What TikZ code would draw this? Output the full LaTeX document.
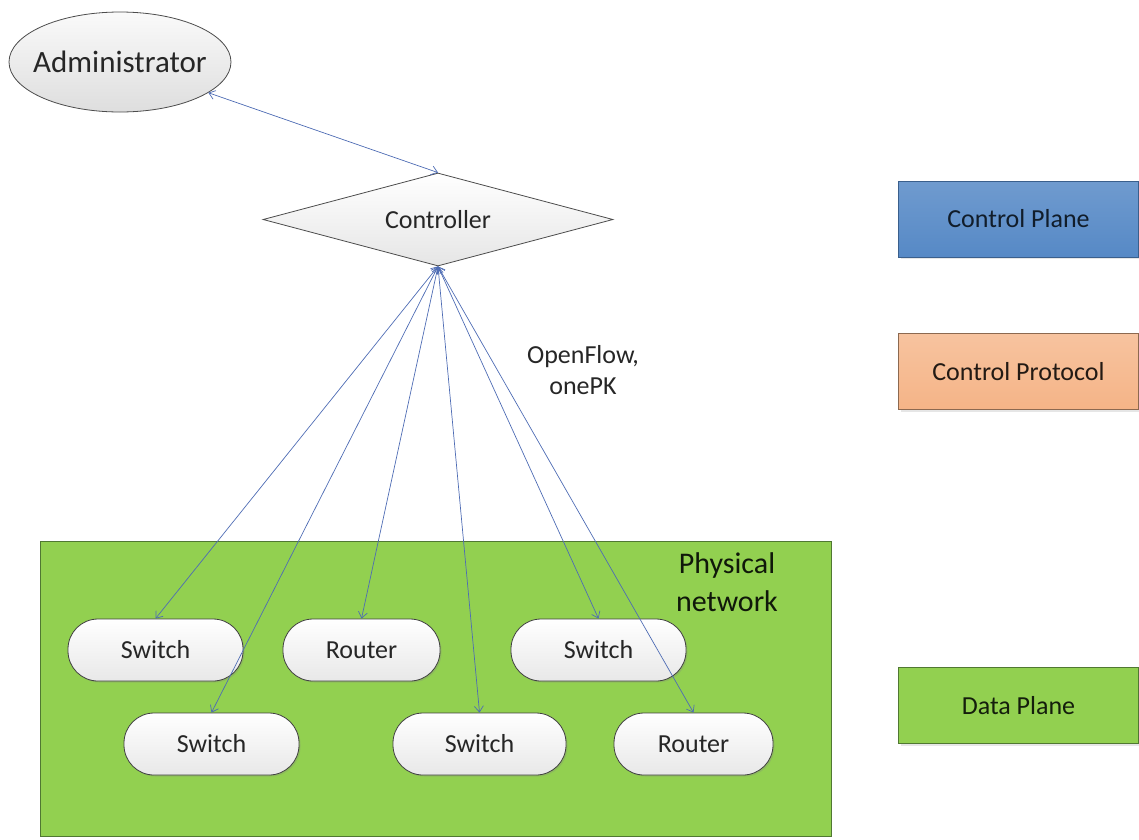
\documentclass[tikz,border=0pt]{standalone}
\usepackage{fontspec}
\setmainfont{Carlito}
\usetikzlibrary{shapes.geometric,arrows.meta,shadows}

\definecolor{linkblue}{RGB}{78,108,180}
\definecolor{netgreen}{RGB}{146,208,80}
\definecolor{netgreenline}{RGB}{80,120,50}
\definecolor{planeblue}{RGB}{86,137,198}
\definecolor{planeblueline}{RGB}{58,95,140}
\definecolor{protoorange}{RGB}{245,180,135}
\definecolor{protoline}{RGB}{140,105,80}
\definecolor{textgray}{RGB}{38,38,38}

\tikzset{
  x=1pt, y=-1pt,
  basefont/.style={font=\fontsize{26}{31}\selectfont, text=textgray},
  device/.style={basefont, draw=black!75, line width=0.8pt,
    rounded corners=30pt, minimum height=62pt, inner sep=0pt,
    top color=white, bottom color=black!9,
    drop shadow={opacity=0.25, shadow xshift=1.5pt, shadow yshift=-1.5pt}},
  legend/.style={basefont, draw, line width=0.8pt, minimum width=240pt,
    minimum height=76pt, inner sep=0pt,
    drop shadow={opacity=0.2, shadow xshift=2pt, shadow yshift=-2pt}},
  link/.style={draw=linkblue, line width=0.7pt,
    {Straight Barb[length=6pt,width=9pt]}-{Straight Barb[length=6pt,width=9pt]}},
}

\begin{document}
\begin{tikzpicture}
\useasboundingbox (0,0) rectangle (1139,839);

% physical network area
\node[draw=netgreenline, fill=netgreen, line width=0.8pt,
      minimum width=791pt, minimum height=295pt, inner sep=0pt]
      (net) at (435.5,688.5) {};
\node[basefont, text=black!80!netgreenline, font=\fontsize{30}{38}\selectfont,
      align=center] (netlabel) at (727,582) {Physical\\network};

% administrator and controller
\node[ellipse, basefont, font=\fontsize{31}{36}\selectfont, draw=black!70,
      line width=0.8pt, minimum width=222pt, minimum height=100pt,
      inner xsep=-9pt, inner ysep=0pt, top color=black!2, bottom color=black!13]
      (admin) at (120,62) {Administrator};
\node[diamond, basefont, draw=black!70, line width=0.8pt,
      shape aspect=3.76, minimum width=350pt, minimum height=93pt,
      inner sep=0pt, top color=white, bottom color=black!10]
      (ctrl) at (438,219.5) {Controller};

% network devices
\node[device, minimum width=175pt] (sw1) at (155.5,650) {Switch};
\node[device, minimum width=157pt] (rt1) at (361.5,650) {Router};
\node[device, minimum width=175pt] (sw3) at (598.5,650) {Switch};
\node[device, minimum width=175pt] (sw2) at (211.5,744) {Switch};
\node[device, minimum width=173pt] (sw4) at (479.5,744) {Switch};
\node[device, minimum width=159pt] (rt2) at (693.5,744) {Router};

% connectors
\draw[link] (admin) -- (ctrl.north);
\foreach \dev in {sw1,sw2,rt1,sw4,sw3,rt2}
  \draw[link] (ctrl.south) -- (\dev.north);

% protocol label
\node[basefont, align=center] (proto) at (583,370) {OpenFlow,\\onePK};

% legend
\node[legend, draw=planeblueline, top color=planeblue!85!white,
      bottom color=planeblue, text=black!70!planeblueline]
      (lgctrl) at (1018.5,219) {Control Plane};
\node[legend, draw=protoline, top color=protoorange!80!white,
      bottom color=protoorange, text=black!75!protoline]
      (lgproto) at (1018.5,371.5) {Control Protocol};
\node[legend, draw=netgreenline, fill=netgreen, text=black!75!netgreenline]
      (lgdata) at (1018.5,705.5) {Data Plane};
\end{tikzpicture}
\end{document}
